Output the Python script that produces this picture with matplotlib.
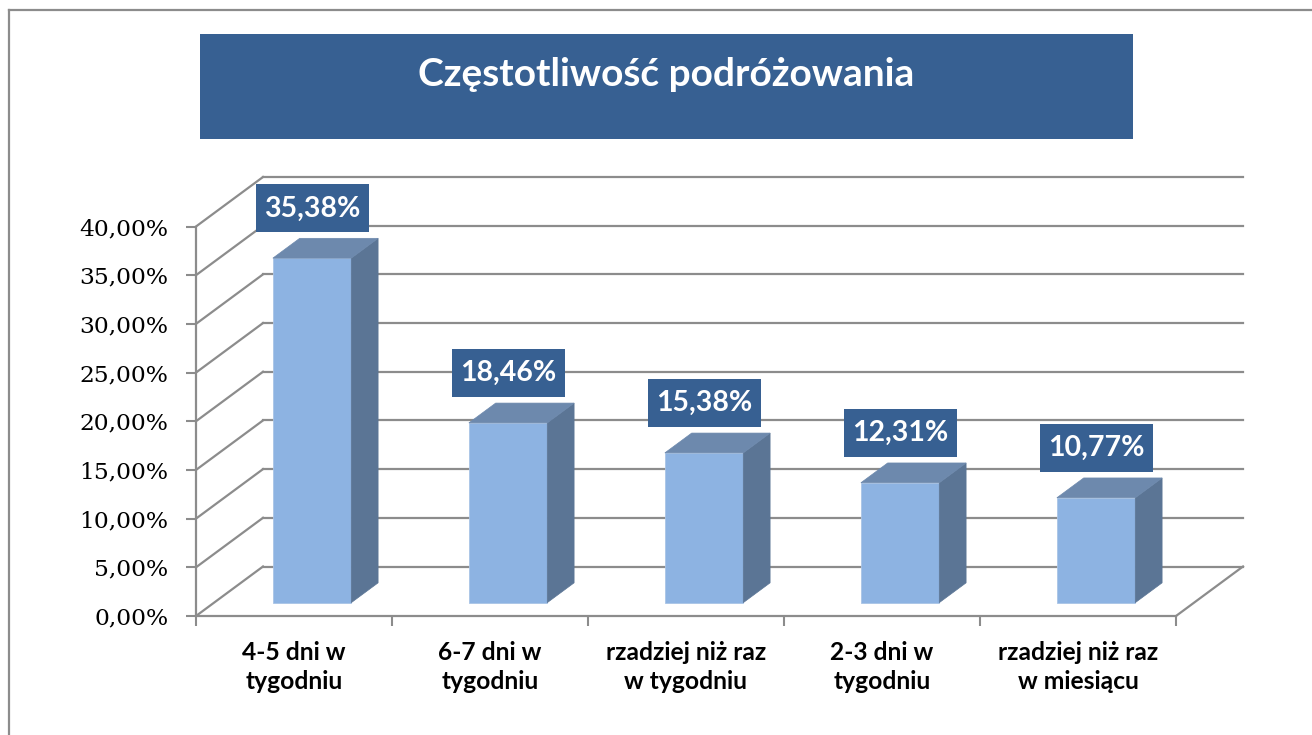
import numpy as np
import matplotlib
matplotlib.use("Agg")
import matplotlib.pyplot as plt
from matplotlib.patches import Rectangle, Polygon
from matplotlib.lines import Line2D
from matplotlib.ticker import FuncFormatter

# data
categories = ["4-5 dni w\ntygodniu", "6-7 dni w\ntygodniu", "rzadziej niż raz\nw tygodniu",
              "2-3 dni w\ntygodniu", "rzadziej niż raz\nw miesiącu"]
values = [35.38, 18.46, 15.38, 12.31, 10.77]
yticks = [0, 5, 10, 15, 20, 25, 30, 35, 40]
title = "Częstotliwość podróżowania"

# colours
darkBlue = "#376092"
faceCol = "#8db3e2"
sideCol = "#5b7595"
topCol = "#6d89ad"
gridCol = "#8c8c8c"
labelFont = ["Lato", "DejaVu Sans"]

W, H = 1312, 735
fig = plt.figure(figsize=(W / 100, H / 100), dpi=100)

# front plane of the fake 3d box, in pixels
x0px, x1px = 196, 1176
y0px, y40px = 616, 226.5
pxPerPct = (y0px - y40px) / 40
pxPerCat = (x1px - x0px) / 5
depthPx = (67, 49.5)
DX = depthPx[0] / pxPerCat
DY = depthPx[1] / pxPerPct

ax = fig.add_axes([x0px / W, 1 - y0px / H,
                   (x1px + depthPx[0] - x0px) / W,
                   (y0px - (y40px - depthPx[1])) / H])
ax.set_xlim(0, 5 + DX)
ax.set_ylim(0, 40 + DY)
ax.patch.set_alpha(0)

# walls: diagonals on the left wall + back wall gridlines
for v in yticks:
    ax.plot([0, DX], [v, v + DY], color=gridCol, lw=1.6, zorder=1, clip_on=False)
    ax.plot([DX, 5 + DX], [v + DY, v + DY], color=gridCol, lw=1.6, zorder=1, clip_on=False)
ax.plot([5, 5 + DX], [0, DY], color=gridCol, lw=1.6, zorder=1, clip_on=False)

for s in ["top", "right"]:
    ax.spines[s].set_visible(False)
ax.spines["left"].set_bounds(0, 40)
ax.spines["bottom"].set_bounds(0, 5)
for s in ["left", "bottom"]:
    ax.spines[s].set_color(gridCol)
    ax.spines[s].set_linewidth(1.6)

ax.set_yticks(yticks)
ax.yaxis.set_major_formatter(FuncFormatter(lambda v, p: ("%.2f%%" % v).replace(".", ",")))
ax.tick_params(axis="y", length=7, width=1.5, color=gridCol, pad=13, labelsize=16.8)
for lbl in ax.get_yticklabels():
    lbl.set_fontfamily("DejaVu Serif")

ax.set_xticks(range(6))
ax.set_xticklabels([""] * 6)
ax.set_xticks(np.arange(5) + 0.5, minor=True)
ax.set_xticklabels(categories, minor=True, fontsize=17.7, fontweight="bold",
                   family=labelFont, linespacing=1.3)
ax.tick_params(axis="x", which="major", length=7, width=1.5, color=gridCol)
ax.tick_params(axis="x", which="minor", length=0, pad=18)

# bars: front face with ax.bar, side and top as polygons
barW = 0.40
f0, f1 = 0.27, 0.40
centers = np.arange(5) + 0.5 + f0 * DX
base = f0 * DY
ax.bar(centers, values, width=barW, bottom=base, color=faceCol,
       edgecolor="#a9c4e6", linewidth=0.6, zorder=3)
sx, sy = f1 * DX, f1 * DY
for c, v in zip(centers, values):
    xl, xr = c - barW / 2, c + barW / 2
    top = base + v
    side = Polygon([(xr, base), (xr + sx, base + sy), (xr + sx, top + sy), (xr, top)],
                   closed=True, facecolor=sideCol, edgecolor=sideCol, lw=0.5, zorder=3)
    lid = Polygon([(xl, top), (xr, top), (xr + sx, top + sy), (xl + sx, top + sy)],
                  closed=True, facecolor=topCol, edgecolor=topCol, lw=0.5, zorder=3)
    ax.add_patch(side)
    ax.add_patch(lid)

    # value label box
    bw = 113 / pxPerCat
    bh = 48 / pxPerPct
    by = top + sy + 0.6
    ax.add_patch(Rectangle((c - bw / 2, by), bw, bh, facecolor=darkBlue,
                           edgecolor="none", zorder=5, clip_on=False))
    ax.text(c, by + bh / 2, ("%.2f%%" % v).replace(".", ","), ha="center", va="center",
            color="white", fontsize=20.5, fontweight="bold", family=labelFont,
            zorder=6, clip_on=False)

# title box
fig.add_artist(Rectangle((200 / W, 1 - 139 / H), 933 / W, 105 / H,
                         transform=fig.transFigure, facecolor=darkBlue, edgecolor="none"))
fig.text(666.5 / W, 1 - 74 / H, title, ha="center", va="center", color="white",
         fontsize=28, fontweight="bold", family=labelFont)

# outer chart border (left and top visible)
fig.add_artist(Line2D([9 / W, 9 / W], [0, 1 - 10 / H], color="#8c8c8c", lw=1.6))
fig.add_artist(Line2D([9 / W, 1], [1 - 10 / H, 1 - 10 / H], color="#8c8c8c", lw=1.6))

fig.savefig("out.png", dpi=100)
